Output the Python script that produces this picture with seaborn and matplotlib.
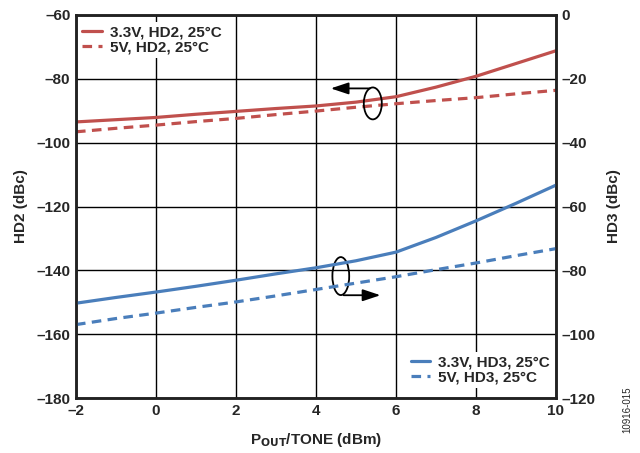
import matplotlib
matplotlib.use("Agg")
import matplotlib.pyplot as plt
import seaborn as sns
import pandas as pd
from matplotlib.patches import Ellipse

pout = [-2, -1, 0, 1, 2, 3, 4, 5, 6, 7, 8, 9, 10]
hd2_33v = [-93.5, -92.8, -92.1, -91.1, -90.2, -89.3, -88.5, -87.3, -85.6, -82.6, -79.2, -75.2, -71.2]
hd2_5v = [-96.6, -95.5, -94.5, -93.4, -92.4, -91.2, -90.1, -88.9, -87.8, -86.8, -85.9, -84.7, -83.6]
hd3_33v = [-90.3, -88.5, -86.8, -85.0, -83.1, -81.1, -79.2, -77.0, -74.3, -69.7, -64.5, -59.0, -53.3]
hd3_5v = [-97.0, -95.1, -93.4, -91.6, -89.9, -88.0, -86.0, -84.0, -82.0, -79.8, -77.7, -75.4, -73.2]

hd2_names = ["3.3V, HD2, 25°C", "5V, HD2, 25°C"]
hd3_names = ["3.3V, HD3, 25°C", "5V, HD3, 25°C"]
x_ticks = [-2, 0, 2, 4, 6, 8, 10]
left_ticks = [-180, -160, -140, -120, -100, -80, -60]
right_ticks = [-120, -100, -80, -60, -40, -20, 0]

sns.set_theme(style="white")
plt.rcParams["font.family"] = ["Liberation Sans", "DejaVu Sans"]
plt.rcParams["font.weight"] = "bold"

RED = "#C0504D"
BLUE = "#4A7EBB"
FS = 11

df2 = pd.concat([
    pd.DataFrame({"x": pout, "y": hd2_33v, "s": hd2_names[0]}),
    pd.DataFrame({"x": pout, "y": hd2_5v, "s": hd2_names[1]}),
])
df3 = pd.concat([
    pd.DataFrame({"x": pout, "y": hd3_33v, "s": hd3_names[0]}),
    pd.DataFrame({"x": pout, "y": hd3_5v, "s": hd3_names[1]}),
])

fig = plt.figure(figsize=(6.4, 4.53), dpi=100)
ax = fig.add_axes([76/640, 1-398/453, 480/640, 383/453])
ax2 = ax.twinx()

dashes = {hd2_names[0]: "", hd2_names[1]: (3, 2)}
sns.lineplot(data=df2, x="x", y="y", style="s", dashes=dashes, color=RED,
             linewidth=2.3, ax=ax, legend=False)
dashes3 = {hd3_names[0]: "", hd3_names[1]: (3, 2)}
sns.lineplot(data=df3, x="x", y="y", style="s", dashes=dashes3, color=BLUE,
             linewidth=2.3, ax=ax2, legend=False)

ax.set_xlim(-2, 10)
ax.set_ylim(-180, -60)
ax2.set_ylim(-120, 0)
ax.set_xticks(x_ticks)
ax.set_yticks(left_ticks)
ax2.set_yticks(right_ticks)
ax.set_xticklabels([str(v).replace("-", "\u2013") for v in x_ticks])
ax.set_yticklabels([str(v).replace("-", "\u2013") for v in left_ticks])
ax2.set_yticklabels([str(v).replace("-", "\u2013") for v in right_ticks])

ax.grid(True, color="black", linewidth=1.0)
ax.set_axisbelow(True)
for a in (ax, ax2):
    a.tick_params(length=0, labelsize=FS, pad=4)
    for sp in a.spines.values():
        sp.set_color("#222222")
        sp.set_linewidth(1.8)
    for lab in a.get_xticklabels() + a.get_yticklabels():
        lab.set_fontweight("bold")

ax.set_xlabel("P$_{\\mathbf{OUT}}$/TONE (dBm)", fontsize=FS, fontweight="bold", labelpad=10)
ax.set_ylabel("HD2 (dBc)", fontsize=FS, fontweight="bold", labelpad=6)
ax2.set_ylabel("HD3 (dBc)", fontsize=FS, fontweight="bold", labelpad=8)

h1 = [plt.Line2D([], [], color=RED, lw=2.3),
      plt.Line2D([], [], color=RED, lw=2.3, dashes=(3, 2))]
leg1 = ax.legend(h1, hd2_names, loc="upper left", frameon=True, fontsize=FS,
                 handlelength=1.3, handletextpad=0.5, borderaxespad=0.0, borderpad=0.25,
                 labelspacing=0.05, facecolor="white", edgecolor="none", framealpha=1.0,
                 bbox_to_anchor=(0.005, 0.982))
ax.add_artist(leg1)
h2 = [plt.Line2D([], [], color=BLUE, lw=2.3),
      plt.Line2D([], [], color=BLUE, lw=2.3, dashes=(3, 2))]
leg2 = ax2.legend(h2, hd3_names, loc="lower right", frameon=True, fontsize=FS,
                  handlelength=1.3, handletextpad=0.5, borderaxespad=0.0, borderpad=0.25,
                  labelspacing=0.05, facecolor="white", edgecolor="none", framealpha=1.0,
                  bbox_to_anchor=(0.995, 0.025))
for t in leg1.get_texts() + leg2.get_texts():
    t.set_fontweight("bold")

# annotation ellipses and arrows
ax.add_patch(Ellipse((5.42, -87.7), 0.45, 10.0, fill=False, edgecolor="black", lw=1.3, zorder=5))
ax.annotate("", xy=(4.3, -83.0), xytext=(5.42, -83.0),
            arrowprops=dict(arrowstyle="-|>,head_length=0.9,head_width=0.3", color="black", lw=1.3), zorder=5)
ax.add_patch(Ellipse((4.62, -141.8), 0.42, 11.9, fill=False, edgecolor="black", lw=1.3, zorder=5))
ax.annotate("", xy=(5.68, -147.8), xytext=(4.62, -147.8),
            arrowprops=dict(arrowstyle="-|>,head_length=0.9,head_width=0.3", color="black", lw=1.3), zorder=5)

fig.text(627/640, 1-410/453, "10916-015", rotation=90, fontsize=7, fontweight="normal",
         ha="center", va="center")

fig.savefig("out.png", dpi=100)
